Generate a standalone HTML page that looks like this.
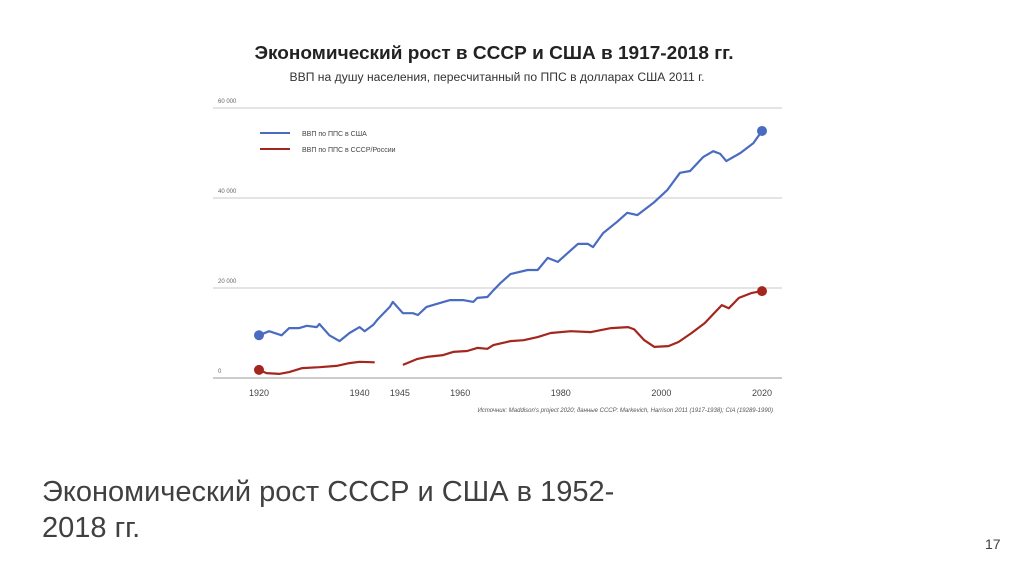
<!DOCTYPE html>
<html><head><meta charset="utf-8">
<style>
html,body{margin:0;padding:0;background:#fff;}
body{width:1024px;height:574px;position:relative;overflow:hidden;font-family:"Liberation Sans","Noto Sans CJK SC",sans-serif;}
#caption{position:absolute;left:42px;top:474px;font-size:29px;line-height:36px;color:#404040;}
#pagenum{position:absolute;left:985px;top:536px;font-size:14px;color:#404040;}
</style></head><body>
<svg id="chart" width="1024" height="574" style="position:absolute;left:0;top:0">
<text x="494" y="59" text-anchor="middle" font-size="18" font-weight="bold" fill="#222" textLength="479" lengthAdjust="spacingAndGlyphs">Экономический рост в СССР и США в 1917-2018 гг.</text>
<text x="497" y="81" text-anchor="middle" font-size="11.5" fill="#333" textLength="415" lengthAdjust="spacingAndGlyphs">ВВП на душу населения, пересчитанный по ППС в долларах США 2011 г.</text>
<g id="grid"></g>
<g id="xticks"></g>
<g>
<line x1="260" y1="133" x2="290" y2="133" stroke="#4a6cc0" stroke-width="2"/>
<text x="302" y="136" font-size="7" fill="#444">ВВП по ППС в США</text>
<line x1="260" y1="149" x2="290" y2="149" stroke="#a3261f" stroke-width="2"/>
<text x="302" y="152" font-size="7" fill="#444">ВВП по ППС в СССР/России</text>
</g>
<g id="series"></g>
<text x="773" y="412" text-anchor="end" font-size="6" font-style="italic" fill="#555">Источник: Maddison's project 2020; данные СССР: Markevich, Harrison 2011 (1917-1938); CIA (19289-1990)</text>
</svg>
<div id="caption">Экономический рост СССР и США в 1952-<br>2018 гг.</div>
<div id="pagenum">17</div>
<script>
const yTicks=[0,20000,40000,60000];
const yTickLabels=["0","20 000","40 000","60 000"];
const xTickYears=[1920,1940,1948,1960,1980,2000,2020];
const xTickLabels=["1920","1940","1945","1960","1980","2000","2020"];
const usaYears=[1920,1922,1924.5,1926,1928,1929.5,1931.5,1932,1934,1936,1938,1940,1941,1942.7,1943.5,1946,1946.6,1948.6,1950.6,1951.6,1953.3,1956,1958,1960.6,1962.6,1963.4,1965.4,1966.6,1968,1970,1973.4,1975.4,1977.4,1979.4,1983.4,1985.4,1986.4,1988.4,1991.2,1993.2,1995.2,1998.4,2001.2,2003.7,2005.7,2008.3,2010.3,2011.7,2012.9,2015.7,2018.3,2020];
const usaValues=[9500,10400,9500,11100,11100,11600,11300,12000,9500,8200,10000,11300,10400,11800,12900,15800,16900,14400,14400,14000,15800,16700,17300,17300,16900,17800,18000,19500,21100,23100,24000,24000,26700,25800,29800,29800,29100,32200,34700,36700,36200,38900,41800,45600,46000,49100,50400,49800,48200,50000,52200,54900];
const ussrYears1=[1920,1921.5,1924,1926,1928.6,1932,1935.4,1938,1940,1943];
const ussrValues1=[1800,1100,900,1300,2200,2400,2700,3300,3600,3500];
const ussrYears2=[1948.6,1951.4,1953.4,1956.6,1958.6,1961.4,1963.4,1965.4,1966.6,1970,1972.6,1975.4,1978,1982,1986,1990,1993.4,1994.6,1996.6,1998.6,2001.4,2003.4,2006,2008.6,2012,2013.4,2015.4,2018,2020];
const ussrValues2=[2900,4200,4700,5100,5800,6000,6700,6500,7300,8200,8400,9100,10000,10400,10200,11100,11300,10800,8400,6900,7100,8000,10000,12200,16200,15500,17800,18900,19300];

const NS="http://www.w3.org/2000/svg";
function xs(y){return 259+5.03*(y-1920);}
function ys(v){return 378-v*90/20000;}
function mk(tag,attrs,parent){const e=document.createElementNS(NS,tag);for(const k in attrs)e.setAttribute(k,attrs[k]);parent.appendChild(e);return e;}
const grid=document.getElementById('grid');
yTicks.forEach((t,i)=>{
  const l=mk('line',{x1:213,x2:782,y1:ys(t),y2:ys(t),stroke:i===0?'#999':'#c8c8c8','stroke-width':1},grid);
  
  
  const tx=mk('text',{x:218,y:ys(t)-5,'font-size':6,fill:'#666'},grid);
  tx.textContent=yTickLabels[i];
  
  
});
const xt=document.getElementById('xticks');
xTickYears.forEach((y,i)=>{
  const tx=mk('text',{x:xs(y),y:396,'font-size':9,fill:'#444','text-anchor':'middle'},xt);
  tx.textContent=xTickLabels[i];
  
  
});
const g=document.getElementById('series');
function line(years,vals,color,name){
  const d=years.map((y,i)=>(i?'L':'M')+xs(y).toFixed(1)+','+ys(vals[i]).toFixed(1)).join('');
  const p=mk('path',{d:d,fill:'none',stroke:color,'stroke-width':2.2,'stroke-linejoin':'round'},g);
  
  
}
line(usaYears,usaValues,'#4a6cc0','usa-gdp-line');
line(ussrYears1,ussrValues1,'#a3261f','ussr-gdp-line-prewar');
line(ussrYears2,ussrValues2,'#a3261f','ussr-russia-gdp-line-postwar');
function dot(y,v,color,name){
  const c=mk('circle',{cx:xs(y),cy:ys(v),r:5,fill:color},g);
  
  
}
dot(usaYears[0],usaValues[0],'#4a6cc0','usa-start-dot');
dot(usaYears[usaYears.length-1],usaValues[usaValues.length-1],'#4a6cc0','usa-end-dot');
dot(ussrYears1[0],ussrValues1[0],'#a3261f','ussr-start-dot');
dot(ussrYears2[ussrYears2.length-1],ussrValues2[ussrValues2.length-1],'#a3261f','russia-end-dot');
</script>
</body></html>
